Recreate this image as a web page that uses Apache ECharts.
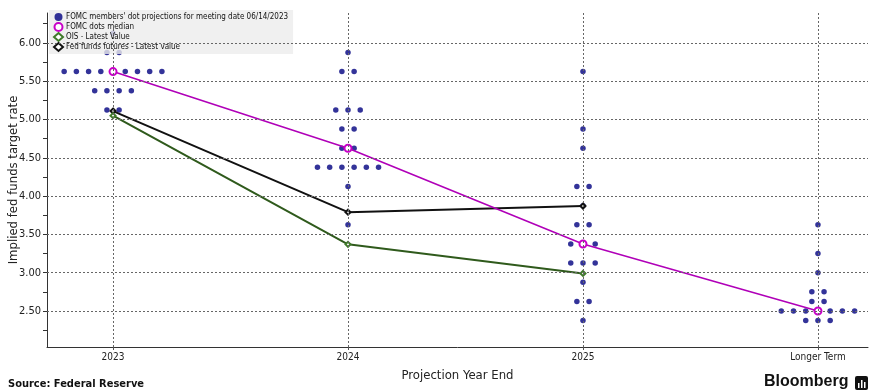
<!DOCTYPE html>
<html>
<head>
<meta charset="utf-8">
<script src="https://cdn.jsdelivr.net/npm/echarts@6/dist/echarts.min.js"></script>
<style>
  html, body { margin: 0; padding: 0; background: #fff; }
  #chart { width: 869px; height: 392px; }
</style>
</head>
<body>
<div id="chart"></div>
<script>
// categories on the x axis
const categories = ['2023', '2024', '2025', 'Longer Term'];

// FOMC dots: [rate, number of participants] per projection year
const dots2023 = [[6.125, 1], [5.875, 2], [5.625, 9], [5.375, 4], [5.125, 2]];
const dots2024 = [[5.875, 1], [5.625, 2], [5.125, 3], [4.875, 2], [4.625, 2], [4.375, 6], [4.125, 1], [3.625, 1]];
const dots2025 = [[5.625, 1], [4.875, 1], [4.625, 1], [4.125, 2], [3.875, 1], [3.625, 2], [3.375, 3], [3.125, 3], [2.875, 1], [2.625, 2], [2.375, 1]];
const dotsLonger = [[3.625, 1], [3.25, 1], [3.0, 1], [2.75, 2], [2.625, 2], [2.5, 7], [2.375, 3]];

const medianDots = [5.625, 4.625, 3.375, 2.5];
const oisLatest = [5.05, 3.37, 2.99];
const fedFuturesLatest = [5.11, 3.79, 3.87];

const yLabels = [2.5, 3.0, 3.5, 4.0, 4.5, 5.0, 5.5, 6.0];
const yMinorTicks = [2.25, 2.5, 2.75, 3.0, 3.25, 3.5, 3.75, 4.0, 4.25, 4.5, 4.75, 5.0, 5.25, 5.5, 5.75, 6.0, 6.25];

const legendNames = [
  "FOMC members' dot projections for meeting date 06/14/2023",
  'FOMC dots median',
  'OIS - Latest Value',
  'Fed funds futures - Latest value'
];

const DOT_STEP = 0.052; // horizontal spread between dots on one row
const FONT = "'DejaVu Sans Condensed', 'Liberation Sans', sans-serif";

function spreadDots(rows, catIndex) {
  const out = [];
  rows.forEach(([rate, n]) => {
    for (let i = 0; i < n; i++) {
      out.push([catIndex + (i - (n - 1) / 2) * DOT_STEP, rate]);
    }
  });
  return out;
}

const dotData = [].concat(
  spreadDots(dots2023, 0),
  spreadDots(dots2024, 1),
  spreadDots(dots2025, 2),
  spreadDots(dotsLonger, 3)
);

const gridLineStyle = { color: '#666', width: 1, type: [2, 2] };

const chart = echarts.init(document.getElementById('chart'));
const option = {
  animation: false,
  textStyle: { fontFamily: FONT },
  grid: { left: 47, right: 1, top: 13, bottom: 45, outerBoundsMode: 'none', containLabel: false },
  legend: {
    data: [
      { name: legendNames[0], icon: 'circle' },
      { name: legendNames[1], icon: 'emptyCircle' },
      { name: legendNames[2], icon: 'emptyDiamond' },
      { name: legendNames[3], icon: 'emptyDiamond' }
    ],
    orient: 'vertical',
    left: 49,
    top: 10,
    itemGap: 0,
    itemWidth: 9,
    itemHeight: 8,
    padding: [2, 5, 2, 4],
    backgroundColor: 'rgba(236,236,236,0.8)',
    textStyle: { fontSize: 8, lineHeight: 10, color: '#111', fontFamily: FONT, padding: [0, 0, 0, -2] },
    selectedMode: false
  },
  xAxis: {
    type: 'value',
    min: -0.281,
    max: 3.213,
    name: 'Projection Year End',
    nameLocation: 'middle',
    nameGap: 22,
    nameMoveOverlap: false,
    nameTextStyle: { fontSize: 13, color: '#222', fontFamily: FONT },
    axisLine: { onZero: false, lineStyle: { color: '#333' } },
    axisTick: { customValues: [0, 1, 2, 3], length: 3, lineStyle: { color: '#555' } },
    axisLabel: {
      customValues: [0, 1, 2, 3],
      formatter: v => categories[Math.round(v)],
      fontSize: 10, color: '#222', margin: 5
    },
    splitLine: { show: false }
  },
  yAxis: {
    type: 'value',
    min: 2.03,
    max: 6.39,
    name: 'Implied fed funds target rate',
    nameLocation: 'middle',
    nameGap: 27,
    nameMoveOverlap: false,
    nameTextStyle: { fontSize: 13, color: '#222', fontFamily: FONT },
    axisLine: { show: true, onZero: false, lineStyle: { color: '#333' } },
    axisTick: { show: true, customValues: yMinorTicks, length: 4, lineStyle: { color: '#333' } },
    axisLabel: {
      customValues: yLabels,
      formatter: v => v.toFixed(2),
      fontSize: 11, color: '#222', margin: 6
    },
    splitLine: { show: false }
  },
  series: [
    {
      // dashed reference lines
      type: 'line',
      data: [],
      z: 1,
      silent: true,
      markLine: {
        silent: true,
        symbol: ['none', 'none'],
        label: { show: false },
        lineStyle: gridLineStyle,
        data: yLabels.map(v => ({ yAxis: v })).concat([0, 1, 2, 3].map(v => ({ xAxis: v })))
      }
    },
    {
      name: legendNames[0],
      type: 'scatter',
      data: dotData,
      symbolSize: 5.5,
      z: 2,
      itemStyle: { color: '#000080' }
    },
    {
      name: legendNames[3],
      type: 'line',
      data: fedFuturesLatest.map((v, i) => [i, v]),
      symbol: 'emptyDiamond',
      symbolSize: 5,
      z: 3,
      lineStyle: { color: '#111', width: 2 },
      itemStyle: { color: '#111' }
    },
    {
      name: legendNames[2],
      type: 'line',
      data: oisLatest.map((v, i) => [i, v]),
      symbol: 'emptyDiamond',
      symbolSize: 5,
      z: 3,
      lineStyle: { color: '#2f5a1c', width: 2 },
      itemStyle: { color: '#3f7a2a' }
    },
    {
      name: legendNames[1],
      type: 'line',
      data: medianDots.map((v, i) => [i, v]),
      symbol: 'emptyCircle',
      symbolSize: 7,
      z: 4,
      lineStyle: { color: '#b000b8', width: 1.6 },
      itemStyle: { color: '#c800c8', borderWidth: 1.5 }
    }
  ],
  graphic: [
    {
      type: 'text', left: 8, top: 379,
      style: { text: 'Source: Federal Reserve', fontSize: 11, fontWeight: 'bold', fill: '#111', fontFamily: FONT }
    },
    {
      type: 'text', left: 764, top: 374,
      style: { text: 'Bloomberg', fontSize: 16, fontWeight: 'bold', fill: '#111', fontFamily: "'Liberation Sans', sans-serif" }
    },
    {
      type: 'group', left: 855, top: 376,
      children: [
        { type: 'rect', shape: { x: 0, y: 0, width: 13, height: 14, r: 2 }, style: { fill: '#111' } },
        { type: 'rect', shape: { x: 3, y: 7, width: 1.5, height: 5 }, style: { fill: '#fff' } },
        { type: 'rect', shape: { x: 6, y: 4, width: 1.5, height: 8 }, style: { fill: '#fff' } },
        { type: 'rect', shape: { x: 9, y: 6, width: 1.5, height: 6 }, style: { fill: '#fff' } }
      ]
    }
  ]
};
chart.setOption(option);
window.addEventListener('resize', () => chart.resize());
</script>
</body>
</html>
